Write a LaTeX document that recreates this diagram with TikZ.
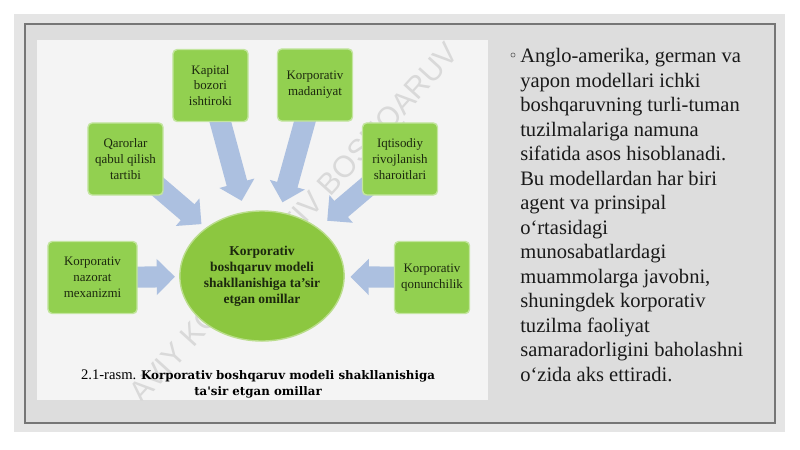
\documentclass[tikz,border=0pt]{standalone}
\usepackage{fontspec}
\setmainfont{Liberation Serif}
\newfontfamily\capfont{DejaVu Serif}
\newfontfamily\markfont{Liberation Sans}
\usepackage{tikz}
\usetikzlibrary{arrows.meta,shapes.geometric}

\definecolor{bandgray}{RGB}{229,229,229}
\definecolor{slidegray}{RGB}{221,221,221}
\definecolor{framegray}{RGB}{118,118,118}
\definecolor{imgwhite}{RGB}{244,244,244}
\definecolor{boxgreen}{RGB}{146,208,80}
\definecolor{ovalgreen}{RGB}{140,199,64}
\definecolor{arrowblue}{RGB}{172,192,224}
\definecolor{darktext}{RGB}{28,40,14}

\pgfdeclarelayer{background}
\pgfsetlayers{background,main}

\tikzset{
  factor/.style={rectangle, rounded corners=3pt, fill=boxgreen, draw=boxgreen!55!white,
    line width=1pt, minimum width=1.875cm, minimum height=1.8cm, align=center,
    text=darktext, font=\fontsize{9.2}{11.3}\selectfont},
  markaz/.style={ellipse, fill=ovalgreen, draw=ovalgreen!60!white, line width=1pt,
    minimum width=4cm, minimum height=3.25cm, align=center, inner sep=0pt,
    text=darktext, font=\bfseries\fontsize{9.6}{11.3}\selectfont},
  flow/.style={color=arrowblue, line width=15pt, shorten <=-8pt,
    -{Triangle[width=25pt,length=13pt]}},
  watermark/.style={text=gray!30, font=\markfont\fontsize{21.5}{24}\selectfont, inner sep=0pt}
}

\begin{document}
\begin{tikzpicture}[x=0.025cm,y=-0.025cm]
    	\useasboundingbox (0,0) rectangle (800,449);
    	
    	\node[factor] (kapital) at (210.5,85.5)   {Kapital\\bozori\\ishtiroki};
    	\node[factor] (madaniyat) at (315,85)     {Korporativ\\madaniyat};
    	\node[factor] (qaror) at (125.5,159)      {Qarorlar\\qabul qilish\\tartibi};
    	\node[factor] (iqtisod) at (400,159)      {Iqtisodiy\\rivojlanish\\sharoitlari};
    	\node[factor, minimum width=2.225cm] (nazorat) at (92.5,277.5) {Korporativ\\nazorat\\mexanizmi};
    	\node[factor] (qonun) at (432,277.5)      {Korporativ\\qonunchilik};
    	\node[markaz] (omil) at (262,276)         {Korporativ\\boshqaruv modeli\\shakllanishiga ta’sir\\etgan omillar};
    	
    	\node[align=center, font=\fontsize{10.4}{11.7}\selectfont] (izoh) at (258,384)
    	     {2.1-rasm. {\capfont\bfseries\fontsize{8.4}{11.7}\selectfont Korporativ boshqaruv modeli shakllanishiga}\\
    	      {\capfont\bfseries\fontsize{8.4}{11.7}\selectfont ta'sir etgan omillar}};
    	
    	\node[circle, draw=black!65, inner sep=0pt, minimum size=3pt] (belgi) at (513,55) {};
    	\node[anchor=north west, align=left, inner sep=0pt, text=black!90,
    	      font=\fontsize{14.6}{17.44}\selectfont] (matn) at (520,48)
    	     {Anglo-amerika, german va\\
    	      yapon modellari ichki\\
    	      boshqaruvning turli-tuman\\
    	      tuzilmalariga namuna\\
    	      sifatida asos hisoblanadi.\\
    	      Bu modellardan har biri\\
    	      agent va prinsipal\\
    	      o‘rtasidagi\\
    	      munosabatlardagi\\
    	      muammolarga javobni,\\
    	      shuningdek korporativ\\
    	      tuzilma faoliyat\\
    	      samaradorligini baholashni\\
    	      o‘zida aks ettiradi.};
    	
    	\begin{pgfonlayer}{background}
    	\fill[bandgray] (14,14) rectangle (785,432);
    	\draw[framegray, line width=0.8pt, fill=slidegray] (25,24) rectangle (775,423);
    	\fill[imgwhite] (37,40) rectangle (488,400);
    	
    	\path[flow] (qaror) edge[shorten >=4pt] (omil);
    	\path[flow] (kapital) edge[shorten >=8pt] (omil);
    	\path[flow] (madaniyat) edge[shorten >=7pt] (omil);
    	\path[flow] (iqtisod) edge[shorten >=8pt] (omil);
    	\path[flow] (nazorat) edge[shorten >=3pt] (omil);
    	\path[flow] (qonun) edge[shorten >=4pt] (omil);
    	
    	\begin{scope}
    	\clip (37,40) rectangle (488,400);
    	\node[watermark, rotate=47.8] (suvbelgi) at (296,224) {AVIY KORPORATIV BOSHQARUV};
    	\end{scope}
    	\end{pgfonlayer}
    	
\end{tikzpicture}
\end{document}
